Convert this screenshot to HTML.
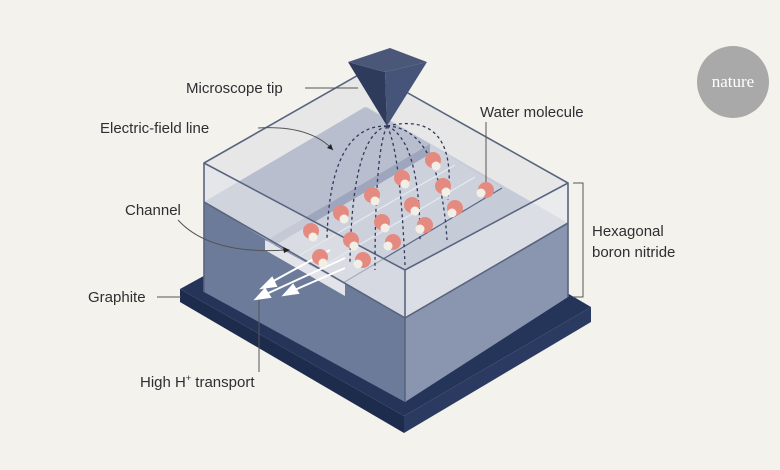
<!DOCTYPE html>
<html><head><meta charset="utf-8"><style>
html,body{margin:0;padding:0;background:#f4f2ec;}
svg{display:block}
text{font-family:"Liberation Sans",sans-serif;font-size:15px;fill:#2e2e33}
</style></head><body>
<svg width="780" height="470" viewBox="0 0 780 470">
<rect width="780" height="470" fill="#f4f2ec"/>
<!-- graphite base -->
<polygon points="180,289 376,181 591,307 404,416" fill="#25355a"/>
<polygon points="180,289 404,416 404,433 180,302" fill="#1d2b4c"/>
<polygon points="404,416 591,307 591,322 404,433" fill="#2a3a60"/>
<!-- glass back walls -->
<polygon points="204,163 367,70 568,183 568,223 367,107 204,202" fill="#e7e7e8"/>
<!-- hBN body -->
<polygon points="204,202 405,318 405,402 204,292" fill="#6d7b9b"/>
<polygon points="405,318 568,223 568,297 405,402" fill="#8a95af"/>
<polygon points="204,202 367,107 568,223 405,318" fill="#c6cbd8"/>
<!-- upper slab -->
<polygon points="204,202 365,107 430,144 267,240" fill="#b8bece"/>
<!-- channel trench -->
<polygon points="267,240 430,144 502,188 343,283" fill="#cdd1dc"/>
<polygon points="267,240 430,144 430,154 267,250" fill="#9ea6bd"/>
<polygon points="265,240 345,284 345,296 265,250" fill="#e2e4ea"/>
<line x1="343" y1="283" x2="502" y2="188" stroke="#5a6686" stroke-width="1.2"/>
<g stroke="#eef0f5" stroke-width="1.2" opacity="0.8">
<line x1="300" y1="255" x2="455" y2="165"/>
<line x1="320" y1="268" x2="475" y2="177"/>
</g>
<!-- glass front walls -->
<polygon points="204,163 405,270 405,318 204,202" fill="#e3e5ea" opacity="0.55"/>
<polygon points="405,270 568,183 568,223 405,318" fill="#eceef1" opacity="0.55"/>
<g fill="none" stroke="#59647f" stroke-width="1.6">
<polyline points="204,292 204,163 367,70 568,183 568,297"/>
<polyline points="204,163 405,270 568,183"/>
<line x1="405" y1="270" x2="405" y2="402"/>
<polyline points="204,202 405,318 568,223"/>
</g>
<!-- field lines -->
<g fill="none" stroke="#2e3a5a" stroke-width="1.3" stroke-dasharray="3,3">
<path d="M387,126 Q330,125 327,238"/>
<path d="M387,126 Q352,135 350,262"/>
<path d="M387,126 Q375,150 375,270"/>
<path d="M387,126 Q400,150 405,265"/>
<path d="M387,126 Q420,140 420,240"/>
<path d="M387,126 Q440,128 447,240"/>
<path d="M387,126 Q458,110 448,200"/>
</g>
<!-- arrows -->
<g stroke="#fff" stroke-width="2" fill="#fff">
<line x1="330" y1="250" x2="268" y2="284"/><polygon points="262,288 272,278 276,286"/>
<line x1="345" y1="258" x2="262" y2="296"/><polygon points="256,299 265,289 270,297"/>
<line x1="345" y1="268" x2="290" y2="292"/><polygon points="284,295 293,285 298,293"/>
</g>
<!-- molecules -->
<g fill="#e58a80">
<circle cx="433" cy="160" r="8"/><circle cx="443" cy="186" r="8"/><circle cx="455" cy="208" r="8"/>
<circle cx="486" cy="190" r="8"/><circle cx="402" cy="178" r="8"/><circle cx="412" cy="205" r="8"/>
<circle cx="425" cy="225" r="8"/><circle cx="372" cy="195" r="8"/><circle cx="382" cy="222" r="8"/>
<circle cx="393" cy="242" r="8"/><circle cx="341" cy="213" r="8"/><circle cx="351" cy="240" r="8"/>
<circle cx="363" cy="260" r="8"/><circle cx="311" cy="231" r="8"/><circle cx="320" cy="257" r="8"/>
</g>
<g fill="#f2f0e6">
<circle cx="436" cy="166" r="4.5"/><circle cx="446" cy="192" r="4.5"/><circle cx="452" cy="213" r="4.5"/>
<circle cx="481" cy="193" r="4.5"/><circle cx="405" cy="184" r="4.5"/><circle cx="415" cy="211" r="4.5"/>
<circle cx="420" cy="229" r="4.5"/><circle cx="375" cy="201" r="4.5"/><circle cx="385" cy="228" r="4.5"/>
<circle cx="388" cy="246" r="4.5"/><circle cx="344" cy="219" r="4.5"/><circle cx="354" cy="246" r="4.5"/>
<circle cx="358" cy="264" r="4.5"/><circle cx="313" cy="237" r="4.5"/><circle cx="323" cy="263" r="4.5"/>
</g>
<!-- tip -->
<polygon points="348,62 387,126 385,72" fill="#2f3b5a"/>
<polygon points="385,72 387,126 427,62" fill="#46547a"/>
<polygon points="348,62 390,48 427,62 385,72" fill="#4a5778"/>
<!-- labels -->
<g stroke="#555" stroke-width="1" fill="none">
<line x1="305" y1="88" x2="358" y2="88"/>
<path d="M258,128 Q310,125 333,150"/>
<line x1="486" y1="122" x2="486" y2="182"/>
<path d="M178,220 Q210,255 286,250"/>
<line x1="157" y1="297" x2="181" y2="297"/>
<line x1="259" y1="300" x2="259" y2="372"/>
<polyline points="573,183 583,183 583,297 573,297"/>
</g>
<polygon points="333,150 327,148 331,144" fill="#222"/>
<polygon points="290,250 283,247 284,253" fill="#222"/>
<text x="186" y="93">Microscope tip</text>
<text x="100" y="133">Electric-field line</text>
<text x="480" y="117">Water molecule</text>
<text x="125" y="215">Channel</text>
<text x="88" y="302">Graphite</text>
<text x="140" y="387">High H<tspan font-size="9" dy="-6">+</tspan><tspan dy="6"> transport</tspan></text>
<text x="592" y="236">Hexagonal</text>
<text x="592" y="257">boron nitride</text>
<circle cx="733" cy="82" r="36" fill="#a9a9a9"/>
<text x="733" y="87" text-anchor="middle" style="font-family:'Liberation Serif',serif;font-size:17px;fill:#fff">nature</text>
</svg>
</body></html>
